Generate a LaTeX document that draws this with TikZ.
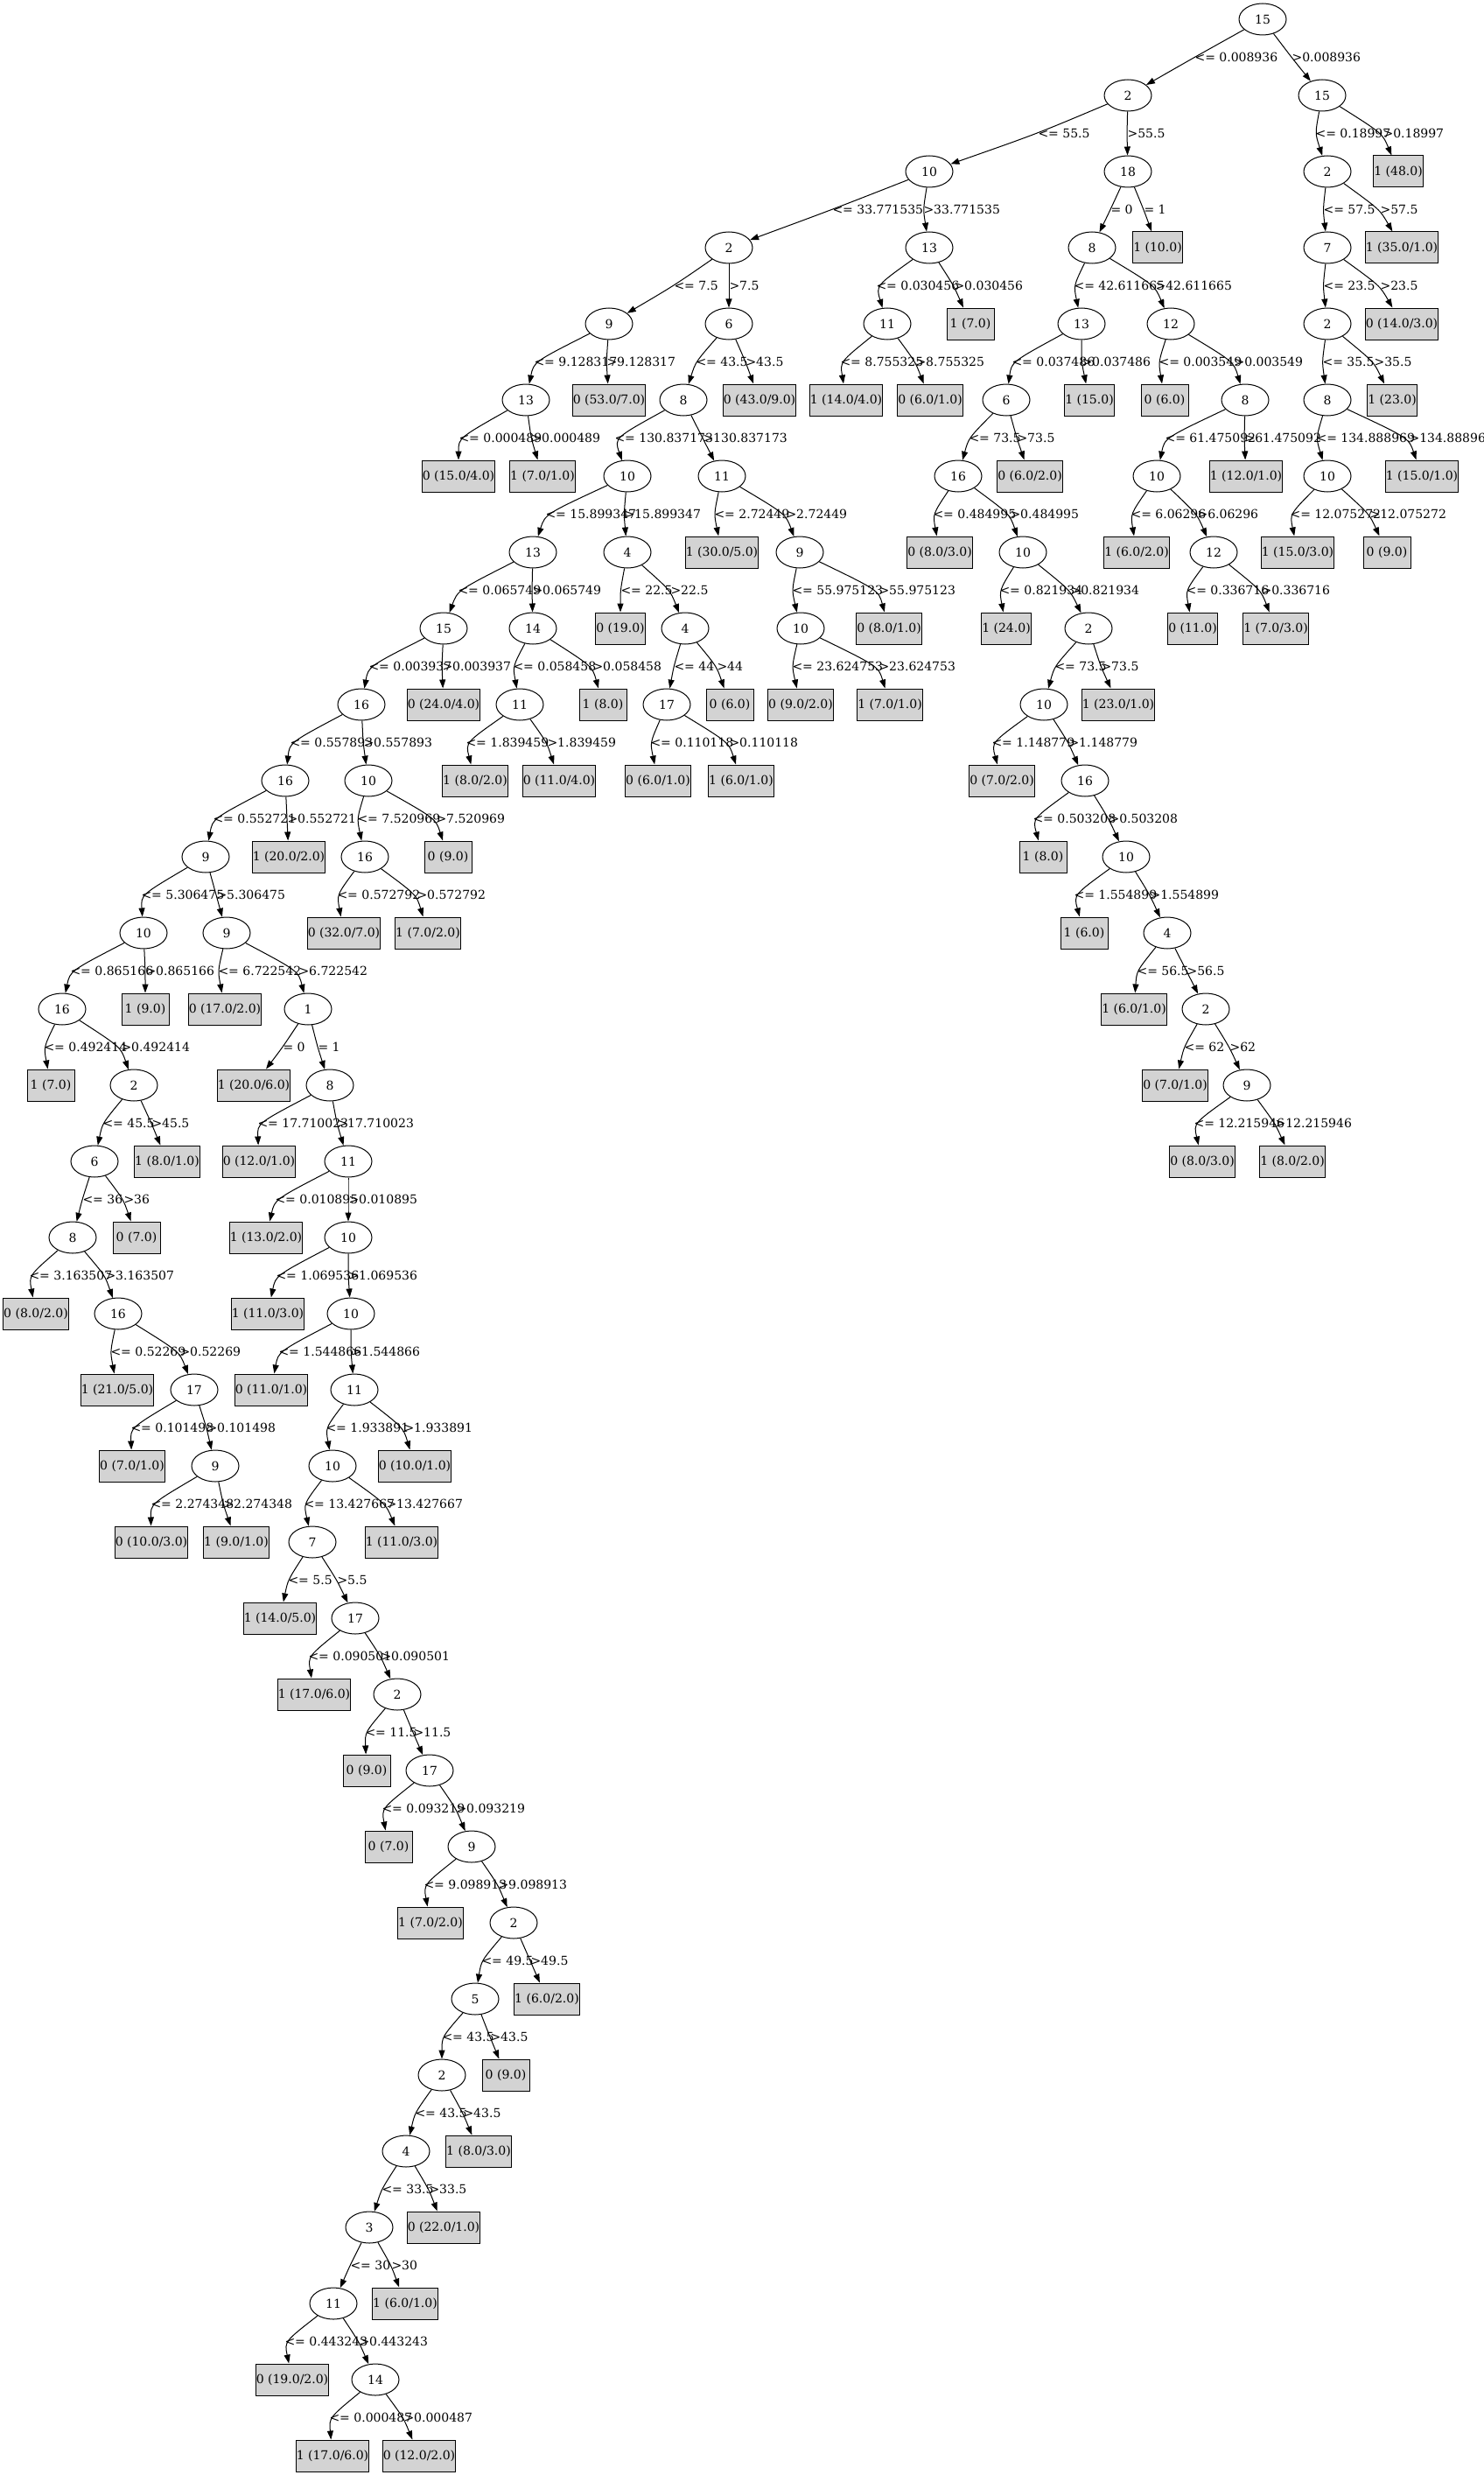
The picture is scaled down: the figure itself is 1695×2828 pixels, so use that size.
\documentclass[tikz,border=0pt]{standalone}
\usepackage{fontspec}
\setmainfont{DejaVu Serif}
\usetikzlibrary{shapes.geometric,arrows.meta}
\definecolor{leafgray}{RGB}{211,211,211}
\tikzset{
    attr/.style={draw, ellipse, minimum width=54pt, minimum height=36pt, inner sep=0pt},
    leaf/.style={draw, fill=leafgray, rectangle, minimum width=54pt, minimum height=36pt, inner xsep=0.5pt, inner ysep=0pt},
    cond/.style={anchor=west, inner sep=0pt}
}
\begin{document}
\begin{tikzpicture}[x=1pt, y=-1pt, line width=1pt, font=\fontsize{14}{16}\selectfont, >={Triangle[length=10pt, width=7pt]}]
        \useasboundingbox (0, 0) rectangle (1695, 2828);
        \node[attr] (n1) at (1443, 22) {15};
        \node[attr] (n2) at (1289, 109) {2};
        \node[attr] (n3) at (1511, 109) {15};
        \node[attr] (n4) at (1062, 196) {10};
        \node[attr] (n5) at (1289, 196) {18};
        \node[attr] (n6) at (1517, 196) {2};
        \node[leaf] (n7) at (1598, 196) {1 (48.0)};
        \node[attr] (n8) at (833, 283) {2};
        \node[attr] (n9) at (1062, 283) {13};
        \node[attr] (n10) at (1248, 283) {8};
        \node[leaf] (n11) at (1323, 283) {1 (10.0)};
        \node[attr] (n12) at (1517, 283) {7};
        \node[leaf] (n13) at (1602, 283) {1 (35.0/1.0)};
        \node[attr] (n14) at (696, 370) {9};
        \node[attr] (n15) at (833, 370) {6};
        \node[attr] (n16) at (1014, 370) {11};
        \node[leaf] (n17) at (1109, 370) {1 (7.0)};
        \node[attr] (n18) at (1236, 370) {13};
        \node[attr] (n19) at (1338, 370) {12};
        \node[attr] (n20) at (1517, 370) {2};
        \node[leaf] (n21) at (1602, 370) {0 (14.0/3.0)};
        \node[attr] (n22) at (601, 457) {13};
        \node[leaf] (n23) at (696, 457) {0 (53.0/7.0)};
        \node[attr] (n24) at (781, 457) {8};
        \node[leaf] (n25) at (868, 457) {0 (43.0/9.0)};
        \node[leaf] (n26) at (967, 457) {1 (14.0/4.0)};
        \node[leaf] (n27) at (1063, 457) {0 (6.0/1.0)};
        \node[attr] (n28) at (1150, 457) {6};
        \node[leaf] (n29) at (1245, 457) {1 (15.0)};
        \node[leaf] (n30) at (1331, 457) {0 (6.0)};
        \node[attr] (n31) at (1423, 457) {8};
        \node[attr] (n32) at (1517, 457) {8};
        \node[leaf] (n33) at (1591, 457) {1 (23.0)};
        \node[leaf] (n34) at (524, 544) {0 (15.0/4.0)};
        \node[leaf] (n35) at (620, 544) {1 (7.0/1.0)};
        \node[attr] (n36) at (717, 544) {10};
        \node[attr] (n37) at (825, 544) {11};
        \node[attr] (n38) at (1095, 544) {16};
        \node[leaf] (n39) at (1177, 544) {0 (6.0/2.0)};
        \node[attr] (n40) at (1322, 544) {10};
        \node[leaf] (n41) at (1424, 544) {1 (12.0/1.0)};
        \node[attr] (n42) at (1517, 544) {10};
        \node[leaf] (n43) at (1625, 544) {1 (15.0/1.0)};
        \node[attr] (n44) at (609, 631) {13};
        \node[attr] (n45) at (717, 631) {4};
        \node[leaf] (n46) at (825, 631) {1 (30.0/5.0)};
        \node[attr] (n47) at (914, 631) {9};
        \node[leaf] (n48) at (1074, 631) {0 (8.0/3.0)};
        \node[attr] (n49) at (1169, 631) {10};
        \node[leaf] (n50) at (1299, 631) {1 (6.0/2.0)};
        \node[attr] (n51) at (1387, 631) {12};
        \node[leaf] (n52) at (1483, 631) {1 (15.0/3.0)};
        \node[leaf] (n53) at (1585, 631) {0 (9.0)};
        \node[attr] (n54) at (507, 718) {15};
        \node[attr] (n55) at (609, 718) {14};
        \node[leaf] (n56) at (709, 718) {0 (19.0)};
        \node[attr] (n57) at (783, 718) {4};
        \node[attr] (n58) at (915, 718) {10};
        \node[leaf] (n59) at (1016, 718) {0 (8.0/1.0)};
        \node[leaf] (n60) at (1150, 718) {1 (24.0)};
        \node[attr] (n61) at (1244, 718) {2};
        \node[leaf] (n62) at (1363, 718) {0 (11.0)};
        \node[leaf] (n63) at (1458, 718) {1 (7.0/3.0)};
        \node[attr] (n64) at (413, 805) {16};
        \node[leaf] (n65) at (507, 805) {0 (24.0/4.0)};
        \node[attr] (n66) at (594, 805) {11};
        \node[leaf] (n67) at (689, 805) {1 (8.0)};
        \node[attr] (n68) at (762, 805) {17};
        \node[leaf] (n69) at (834, 805) {0 (6.0)};
        \node[leaf] (n70) at (915, 805) {0 (9.0/2.0)};
        \node[leaf] (n71) at (1017, 805) {1 (7.0/1.0)};
        \node[attr] (n72) at (1193, 805) {10};
        \node[leaf] (n73) at (1278, 805) {1 (23.0/1.0)};
        \node[attr] (n74) at (326, 892) {16};
        \node[attr] (n75) at (421, 892) {10};
        \node[leaf] (n76) at (543, 892) {1 (8.0/2.0)};
        \node[leaf] (n77) at (639, 892) {0 (11.0/4.0)};
        \node[leaf] (n78) at (752, 892) {0 (6.0/1.0)};
        \node[leaf] (n79) at (847, 892) {1 (6.0/1.0)};
        \node[leaf] (n80) at (1145, 892) {0 (7.0/2.0)};
        \node[attr] (n81) at (1240, 892) {16};
        \node[attr] (n82) at (235, 979) {9};
        \node[leaf] (n83) at (330, 979) {1 (20.0/2.0)};
        \node[attr] (n84) at (417, 979) {16};
        \node[leaf] (n85) at (512, 979) {0 (9.0)};
        \node[leaf] (n86) at (1192, 979) {1 (8.0)};
        \node[attr] (n87) at (1287, 979) {10};
        \node[attr] (n88) at (164, 1066) {10};
        \node[attr] (n89) at (259, 1066) {9};
        \node[leaf] (n90) at (393, 1066) {0 (32.0/7.0)};
        \node[leaf] (n91) at (489, 1066) {1 (7.0/2.0)};
        \node[leaf] (n92) at (1239, 1066) {1 (6.0)};
        \node[attr] (n93) at (1334, 1066) {4};
        \node[attr] (n94) at (71, 1153) {16};
        \node[leaf] (n95) at (166, 1153) {1 (9.0)};
        \node[leaf] (n96) at (257, 1153) {0 (17.0/2.0)};
        \node[attr] (n97) at (352, 1153) {1};
        \node[leaf] (n98) at (1296, 1153) {1 (6.0/1.0)};
        \node[attr] (n99) at (1378, 1153) {2};
        \node[leaf] (n100) at (58, 1240) {1 (7.0)};
        \node[attr] (n101) at (153, 1240) {2};
        \node[leaf] (n102) at (290, 1240) {1 (20.0/6.0)};
        \node[attr] (n103) at (377, 1240) {8};
        \node[leaf] (n104) at (1343, 1240) {0 (7.0/1.0)};
        \node[attr] (n105) at (1425, 1240) {9};
        \node[attr] (n106) at (108, 1327) {6};
        \node[leaf] (n107) at (191, 1327) {1 (8.0/1.0)};
        \node[leaf] (n108) at (296, 1327) {0 (12.0/1.0)};
        \node[attr] (n109) at (398, 1327) {11};
        \node[leaf] (n110) at (1374, 1327) {0 (8.0/3.0)};
        \node[leaf] (n111) at (1477, 1327) {1 (8.0/2.0)};
        \node[attr] (n112) at (83, 1414) {8};
        \node[leaf] (n113) at (156, 1414) {0 (7.0)};
        \node[leaf] (n114) at (304, 1414) {1 (13.0/2.0)};
        \node[attr] (n115) at (398, 1414) {10};
        \node[leaf] (n116) at (41, 1501) {0 (8.0/2.0)};
        \node[attr] (n117) at (135, 1501) {16};
        \node[leaf] (n118) at (306, 1501) {1 (11.0/3.0)};
        \node[attr] (n119) at (401, 1501) {10};
        \node[leaf] (n120) at (134, 1588) {1 (21.0/5.0)};
        \node[attr] (n121) at (222, 1588) {17};
        \node[leaf] (n122) at (310, 1588) {0 (11.0/1.0)};
        \node[attr] (n123) at (405, 1588) {11};
        \node[leaf] (n124) at (151, 1675) {0 (7.0/1.0)};
        \node[attr] (n125) at (246, 1675) {9};
        \node[attr] (n126) at (380, 1675) {10};
        \node[leaf] (n127) at (474, 1675) {0 (10.0/1.0)};
        \node[leaf] (n128) at (173, 1762) {0 (10.0/3.0)};
        \node[leaf] (n129) at (270, 1762) {1 (9.0/1.0)};
        \node[attr] (n130) at (357, 1762) {7};
        \node[leaf] (n131) at (459, 1762) {1 (11.0/3.0)};
        \node[leaf] (n132) at (320, 1849) {1 (14.0/5.0)};
        \node[attr] (n133) at (406, 1849) {17};
        \node[leaf] (n134) at (359, 1936) {1 (17.0/6.0)};
        \node[attr] (n135) at (454, 1936) {2};
        \node[leaf] (n136) at (419, 2023) {0 (9.0)};
        \node[attr] (n137) at (491, 2023) {17};
        \node[leaf] (n138) at (444, 2110) {0 (7.0)};
        \node[attr] (n139) at (539, 2110) {9};
        \node[leaf] (n140) at (492, 2197) {1 (7.0/2.0)};
        \node[attr] (n141) at (587, 2197) {2};
        \node[attr] (n142) at (543, 2284) {5};
        \node[leaf] (n143) at (625, 2284) {1 (6.0/2.0)};
        \node[attr] (n144) at (505, 2371) {2};
        \node[leaf] (n145) at (578, 2371) {0 (9.0)};
        \node[attr] (n146) at (464, 2458) {4};
        \node[leaf] (n147) at (547, 2458) {1 (8.0/3.0)};
        \node[attr] (n148) at (422, 2545) {3};
        \node[leaf] (n149) at (507, 2545) {0 (22.0/1.0)};
        \node[attr] (n150) at (381, 2632) {11};
        \node[leaf] (n151) at (463, 2632) {1 (6.0/1.0)};
        \node[leaf] (n152) at (334, 2719) {0 (19.0/2.0)};
        \node[attr] (n153) at (429, 2719) {14};
        \node[leaf] (n154) at (380, 2806) {1 (17.0/6.0)};
        \node[leaf] (n155) at (479, 2806) {0 (12.0/2.0)};

        \node[cond] (n1l) at (1365, 65.5) {<= 0.008936};
        \node[cond] (n1r) at (1476, 65.5) {>0.008936};
        \draw[->] (n1) .. controls (n1l.west) and (n1l.west) .. (n2);
        \draw[->] (n1) .. controls (n1r.west) and (n1r.west) .. (n3);
        \node[cond] (n2l) at (1186, 152.5) {<= 55.5};
        \node[cond] (n2r) at (1288, 152.5) {>55.5};
        \draw[->] (n2) .. controls (n2l.west) and (n2l.west) .. (n4);
        \draw[->] (n2) .. controls (n2r.west) and (n2r.west) .. (n5);
        \node[cond] (n3l) at (1503, 152.5) {<= 0.18997};
        \node[cond] (n3r) at (1580, 152.5) {>0.18997};
        \draw[->] (n3) .. controls (n3l.west) and (n3l.west) .. (n6);
        \draw[->] (n3) .. controls (n3r.west) and (n3r.west) .. (n7);
        \node[cond] (n4l) at (951, 239.5) {<= 33.771535};
        \node[cond] (n4r) at (1055, 239.5) {>33.771535};
        \draw[->] (n4) .. controls (n4l.west) and (n4l.west) .. (n8);
        \draw[->] (n4) .. controls (n4r.west) and (n4r.west) .. (n9);
        \node[cond] (n5l) at (1269, 239.5) {= 0};
        \node[cond] (n5r) at (1307, 239.5) {= 1};
        \draw[->] (n5) .. controls (n5l.west) and (n5l.west) .. (n10);
        \draw[->] (n5) .. controls (n5r.west) and (n5r.west) .. (n11);
        \node[cond] (n6l) at (1512, 239.5) {<= 57.5};
        \node[cond] (n6r) at (1577, 239.5) {>57.5};
        \draw[->] (n6) .. controls (n6l.west) and (n6l.west) .. (n12);
        \draw[->] (n6) .. controls (n6r.west) and (n6r.west) .. (n13);
        \node[cond] (n8l) at (770, 326.5) {<= 7.5};
        \node[cond] (n8r) at (833, 326.5) {>7.5};
        \draw[->] (n8) .. controls (n8l.west) and (n8l.west) .. (n14);
        \draw[->] (n8) .. controls (n8r.west) and (n8r.west) .. (n15);
        \node[cond] (n9l) at (1001, 326.5) {<= 0.030456};
        \node[cond] (n9r) at (1090, 326.5) {>0.030456};
        \draw[->] (n9) .. controls (n9l.west) and (n9l.west) .. (n16);
        \draw[->] (n9) .. controls (n9r.west) and (n9r.west) .. (n17);
        \node[cond] (n10l) at (1227, 326.5) {<= 42.611665};
        \node[cond] (n10r) at (1320, 326.5) {>42.611665};
        \draw[->] (n10) .. controls (n10l.west) and (n10l.west) .. (n18);
        \draw[->] (n10) .. controls (n10r.west) and (n10r.west) .. (n19);
        \node[cond] (n12l) at (1512, 326.5) {<= 23.5};
        \node[cond] (n12r) at (1577, 326.5) {>23.5};
        \draw[->] (n12) .. controls (n12l.west) and (n12l.west) .. (n20);
        \draw[->] (n12) .. controls (n12r.west) and (n12r.west) .. (n21);
        \node[cond] (n14l) at (610, 413.5) {<= 9.128317};
        \node[cond] (n14r) at (693, 413.5) {>9.128317};
        \draw[->] (n14) .. controls (n14l.west) and (n14l.west) .. (n22);
        \draw[->] (n14) .. controls (n14r.west) and (n14r.west) .. (n23);
        \node[cond] (n15l) at (795, 413.5) {<= 43.5};
        \node[cond] (n15r) at (852, 413.5) {>43.5};
        \draw[->] (n15) .. controls (n15l.west) and (n15l.west) .. (n24);
        \draw[->] (n15) .. controls (n15r.west) and (n15r.west) .. (n25);
        \node[cond] (n16l) at (960, 413.5) {<= 8.755325};
        \node[cond] (n16r) at (1046, 413.5) {>8.755325};
        \draw[->] (n16) .. controls (n16l.west) and (n16l.west) .. (n26);
        \draw[->] (n16) .. controls (n16r.west) and (n16r.west) .. (n27);
        \node[cond] (n18l) at (1156, 413.5) {<= 0.037486};
        \node[cond] (n18r) at (1236, 413.5) {>0.037486};
        \draw[->] (n18) .. controls (n18l.west) and (n18l.west) .. (n28);
        \draw[->] (n18) .. controls (n18r.west) and (n18r.west) .. (n29);
        \node[cond] (n19l) at (1324, 413.5) {<= 0.003549};
        \node[cond] (n19r) at (1410, 413.5) {>0.003549};
        \draw[->] (n19) .. controls (n19l.west) and (n19l.west) .. (n30);
        \draw[->] (n19) .. controls (n19r.west) and (n19r.west) .. (n31);
        \node[cond] (n20l) at (1511, 413.5) {<= 35.5};
        \node[cond] (n20r) at (1570, 413.5) {>35.5};
        \draw[->] (n20) .. controls (n20l.west) and (n20l.west) .. (n32);
        \draw[->] (n20) .. controls (n20r.west) and (n20r.west) .. (n33);
        \node[cond] (n22l) at (524, 500.5) {<= 0.000489};
        \node[cond] (n22r) at (607, 500.5) {>0.000489};
        \draw[->] (n22) .. controls (n22l.west) and (n22l.west) .. (n34);
        \draw[->] (n22) .. controls (n22r.west) and (n22r.west) .. (n35);
        \node[cond] (n24l) at (702, 500.5) {<= 130.837173};
        \node[cond] (n24r) at (803, 500.5) {>130.837173};
        \draw[->] (n24) .. controls (n24l.west) and (n24l.west) .. (n36);
        \draw[->] (n24) .. controls (n24r.west) and (n24r.west) .. (n37);
        \node[cond] (n28l) at (1107, 500.5) {<= 73.5};
        \node[cond] (n28r) at (1162, 500.5) {>73.5};
        \draw[->] (n28) .. controls (n28l.west) and (n28l.west) .. (n38);
        \draw[->] (n28) .. controls (n28r.west) and (n28r.west) .. (n39);
        \node[cond] (n31l) at (1331, 500.5) {<= 61.475092};
        \node[cond] (n31r) at (1422, 500.5) {>61.475092};
        \draw[->] (n31) .. controls (n31l.west) and (n31l.west) .. (n40);
        \draw[->] (n31) .. controls (n31r.west) and (n31r.west) .. (n41);
        \node[cond] (n32l) at (1504, 500.5) {<= 134.888969};
        \node[cond] (n32r) at (1610, 500.5) {>134.888969};
        \draw[->] (n32) .. controls (n32l.west) and (n32l.west) .. (n42);
        \draw[->] (n32) .. controls (n32r.west) and (n32r.west) .. (n43);
        \node[cond] (n36l) at (623, 587.5) {<= 15.899347};
        \node[cond] (n36r) at (713, 587.5) {>15.899347};
        \draw[->] (n36) .. controls (n36l.west) and (n36l.west) .. (n44);
        \draw[->] (n36) .. controls (n36r.west) and (n36r.west) .. (n45);
        \node[cond] (n37l) at (816, 587.5) {<= 2.72449};
        \node[cond] (n37r) at (898, 587.5) {>2.72449};
        \draw[->] (n37) .. controls (n37l.west) and (n37l.west) .. (n46);
        \draw[->] (n37) .. controls (n37r.west) and (n37r.west) .. (n47);
        \node[cond] (n38l) at (1066, 587.5) {<= 0.484995};
        \node[cond] (n38r) at (1154, 587.5) {>0.484995};
        \draw[->] (n38) .. controls (n38l.west) and (n38l.west) .. (n48);
        \draw[->] (n38) .. controls (n38r.west) and (n38r.west) .. (n49);
        \node[cond] (n40l) at (1292, 587.5) {<= 6.06296};
        \node[cond] (n40r) at (1368, 587.5) {>6.06296};
        \draw[->] (n40) .. controls (n40l.west) and (n40l.west) .. (n50);
        \draw[->] (n40) .. controls (n40r.west) and (n40r.west) .. (n51);
        \node[cond] (n42l) at (1474, 587.5) {<= 12.075272};
        \node[cond] (n42r) at (1565, 587.5) {>12.075272};
        \draw[->] (n42) .. controls (n42l.west) and (n42l.west) .. (n52);
        \draw[->] (n42) .. controls (n42r.west) and (n42r.west) .. (n53);
        \node[cond] (n44l) at (523, 674.5) {<= 0.065749};
        \node[cond] (n44r) at (608, 674.5) {>0.065749};
        \draw[->] (n44) .. controls (n44l.west) and (n44l.west) .. (n54);
        \draw[->] (n44) .. controls (n44r.west) and (n44r.west) .. (n55);
        \node[cond] (n45l) at (709, 674.5) {<= 22.5};
        \node[cond] (n45r) at (766, 674.5) {>22.5};
        \draw[->] (n45) .. controls (n45l.west) and (n45l.west) .. (n56);
        \draw[->] (n45) .. controls (n45r.west) and (n45r.west) .. (n57);
        \node[cond] (n47l) at (905, 674.5) {<= 55.975123};
        \node[cond] (n47r) at (1004, 674.5) {>55.975123};
        \draw[->] (n47) .. controls (n47l.west) and (n47l.west) .. (n58);
        \draw[->] (n47) .. controls (n47r.west) and (n47r.west) .. (n59);
        \node[cond] (n49l) at (1142, 674.5) {<= 0.821934};
        \node[cond] (n49r) at (1223, 674.5) {>0.821934};
        \draw[->] (n49) .. controls (n49l.west) and (n49l.west) .. (n60);
        \draw[->] (n49) .. controls (n49r.west) and (n49r.west) .. (n61);
        \node[cond] (n51l) at (1355, 674.5) {<= 0.336716};
        \node[cond] (n51r) at (1441, 674.5) {>0.336716};
        \draw[->] (n51) .. controls (n51l.west) and (n51l.west) .. (n62);
        \draw[->] (n51) .. controls (n51r.west) and (n51r.west) .. (n63);
        \node[cond] (n54l) at (421, 761.5) {<= 0.003937};
        \node[cond] (n54r) at (505, 761.5) {>0.003937};
        \draw[->] (n54) .. controls (n54l.west) and (n54l.west) .. (n64);
        \draw[->] (n54) .. controls (n54r.west) and (n54r.west) .. (n65);
        \node[cond] (n55l) at (586, 761.5) {<= 0.058458};
        \node[cond] (n55r) at (677, 761.5) {>0.058458};
        \draw[->] (n55) .. controls (n55l.west) and (n55l.west) .. (n66);
        \draw[->] (n55) .. controls (n55r.west) and (n55r.west) .. (n67);
        \node[cond] (n57l) at (770, 761.5) {<= 44};
        \node[cond] (n57r) at (819, 761.5) {>44};
        \draw[->] (n57) .. controls (n57l.west) and (n57l.west) .. (n68);
        \draw[->] (n57) .. controls (n57r.west) and (n57r.west) .. (n69);
        \node[cond] (n58l) at (905, 761.5) {<= 23.624753};
        \node[cond] (n58r) at (1004, 761.5) {>23.624753};
        \draw[->] (n58) .. controls (n58l.west) and (n58l.west) .. (n70);
        \draw[->] (n58) .. controls (n58r.west) and (n58r.west) .. (n71);
        \node[cond] (n61l) at (1205, 761.5) {<= 73.5};
        \node[cond] (n61r) at (1258, 761.5) {>73.5};
        \draw[->] (n61) .. controls (n61l.west) and (n61l.west) .. (n72);
        \draw[->] (n61) .. controls (n61r.west) and (n61r.west) .. (n73);
        \node[cond] (n64l) at (331, 848.5) {<= 0.557893};
        \node[cond] (n64r) at (415, 848.5) {>0.557893};
        \draw[->] (n64) .. controls (n64l.west) and (n64l.west) .. (n74);
        \draw[->] (n64) .. controls (n64r.west) and (n64r.west) .. (n75);
        \node[cond] (n66l) at (532, 848.5) {<= 1.839459};
        \node[cond] (n66r) at (625, 848.5) {>1.839459};
        \draw[->] (n66) .. controls (n66l.west) and (n66l.west) .. (n76);
        \draw[->] (n66) .. controls (n66r.west) and (n66r.west) .. (n77);
        \node[cond] (n68l) at (743, 848.5) {<= 0.110118};
        \node[cond] (n68r) at (833, 848.5) {>0.110118};
        \draw[->] (n68) .. controls (n68l.west) and (n68l.west) .. (n78);
        \draw[->] (n68) .. controls (n68r.west) and (n68r.west) .. (n79);
        \node[cond] (n72l) at (1133, 848.5) {<= 1.148779};
        \node[cond] (n72r) at (1221, 848.5) {>1.148779};
        \draw[->] (n72) .. controls (n72l.west) and (n72l.west) .. (n80);
        \draw[->] (n72) .. controls (n72r.west) and (n72r.west) .. (n81);
        \node[cond] (n74l) at (243, 935.5) {<= 0.552721};
        \node[cond] (n74r) at (328, 935.5) {>0.552721};
        \draw[->] (n74) .. controls (n74l.west) and (n74l.west) .. (n82);
        \draw[->] (n74) .. controls (n74r.west) and (n74r.west) .. (n83);
        \node[cond] (n75l) at (408, 935.5) {<= 7.520969};
        \node[cond] (n75r) at (498, 935.5) {>7.520969};
        \draw[->] (n75) .. controls (n75l.west) and (n75l.west) .. (n84);
        \draw[->] (n75) .. controls (n75r.west) and (n75r.west) .. (n85);
        \node[cond] (n81l) at (1180, 935.5) {<= 0.503208};
        \node[cond] (n81r) at (1267, 935.5) {>0.503208};
        \draw[->] (n81) .. controls (n81l.west) and (n81l.west) .. (n86);
        \draw[->] (n81) .. controls (n81r.west) and (n81r.west) .. (n87);
        \node[cond] (n82l) at (161, 1022.5) {<= 5.306475};
        \node[cond] (n82r) at (247, 1022.5) {>5.306475};
        \draw[->] (n82) .. controls (n82l.west) and (n82l.west) .. (n88);
        \draw[->] (n82) .. controls (n82r.west) and (n82r.west) .. (n89);
        \node[cond] (n84l) at (385, 1022.5) {<= 0.572792};
        \node[cond] (n84r) at (476, 1022.5) {>0.572792};
        \draw[->] (n84) .. controls (n84l.west) and (n84l.west) .. (n90);
        \draw[->] (n84) .. controls (n84r.west) and (n84r.west) .. (n91);
        \node[cond] (n87l) at (1227, 1022.5) {<= 1.554899};
        \node[cond] (n87r) at (1314, 1022.5) {>1.554899};
        \draw[->] (n87) .. controls (n87l.west) and (n87l.west) .. (n92);
        \draw[->] (n87) .. controls (n87r.west) and (n87r.west) .. (n93);
        \node[cond] (n88l) at (80, 1109.5) {<= 0.865166};
        \node[cond] (n88r) at (166, 1109.5) {>0.865166};
        \draw[->] (n88) .. controls (n88l.west) and (n88l.west) .. (n94);
        \draw[->] (n88) .. controls (n88r.west) and (n88r.west) .. (n95);
        \node[cond] (n89l) at (249, 1109.5) {<= 6.722542};
        \node[cond] (n89r) at (341, 1109.5) {>6.722542};
        \draw[->] (n89) .. controls (n89l.west) and (n89l.west) .. (n96);
        \draw[->] (n89) .. controls (n89r.west) and (n89r.west) .. (n97);
        \node[cond] (n93l) at (1299, 1109.5) {<= 56.5};
        \node[cond] (n93r) at (1356, 1109.5) {>56.5};
        \draw[->] (n93) .. controls (n93l.west) and (n93l.west) .. (n98);
        \draw[->] (n93) .. controls (n93r.west) and (n93r.west) .. (n99);
        \node[cond] (n94l) at (50, 1196.5) {<= 0.492414};
        \node[cond] (n94r) at (138, 1196.5) {>0.492414};
        \draw[->] (n94) .. controls (n94l.west) and (n94l.west) .. (n100);
        \draw[->] (n94) .. controls (n94r.west) and (n94r.west) .. (n101);
        \node[cond] (n97l) at (323, 1196.5) {= 0};
        \node[cond] (n97r) at (363, 1196.5) {= 1};
        \draw[->] (n97) .. controls (n97l.west) and (n97l.west) .. (n102);
        \draw[->] (n97) .. controls (n97r.west) and (n97r.west) .. (n103);
        \node[cond] (n99l) at (1353, 1196.5) {<= 62};
        \node[cond] (n99r) at (1405, 1196.5) {>62};
        \draw[->] (n99) .. controls (n99l.west) and (n99l.west) .. (n104);
        \draw[->] (n99) .. controls (n99r.west) and (n99r.west) .. (n105);
        \node[cond] (n101l) at (117, 1283.5) {<= 45.5};
        \node[cond] (n101r) at (173, 1283.5) {>45.5};
        \draw[->] (n101) .. controls (n101l.west) and (n101l.west) .. (n106);
        \draw[->] (n101) .. controls (n101r.west) and (n101r.west) .. (n107);
        \node[cond] (n103l) at (294, 1283.5) {<= 17.710023};
        \node[cond] (n103r) at (385, 1283.5) {>17.710023};
        \draw[->] (n103) .. controls (n103l.west) and (n103l.west) .. (n108);
        \draw[->] (n103) .. controls (n103r.west) and (n103r.west) .. (n109);
        \node[cond] (n105l) at (1364, 1283.5) {<= 12.215946};
        \node[cond] (n105r) at (1457, 1283.5) {>12.215946};
        \draw[->] (n105) .. controls (n105l.west) and (n105l.west) .. (n110);
        \draw[->] (n105) .. controls (n105r.west) and (n105r.west) .. (n111);
        \node[cond] (n106l) at (94, 1370.5) {<= 36};
        \node[cond] (n106r) at (141, 1370.5) {>36};
        \draw[->] (n106) .. controls (n106l.west) and (n106l.west) .. (n112);
        \draw[->] (n106) .. controls (n106r.west) and (n106r.west) .. (n113);
        \node[cond] (n109l) at (314, 1370.5) {<= 0.010895};
        \node[cond] (n109r) at (398, 1370.5) {>0.010895};
        \draw[->] (n109) .. controls (n109l.west) and (n109l.west) .. (n114);
        \draw[->] (n109) .. controls (n109r.west) and (n109r.west) .. (n115);
        \node[cond] (n112l) at (33, 1457.5) {<= 3.163507};
        \node[cond] (n112r) at (120, 1457.5) {>3.163507};
        \draw[->] (n112) .. controls (n112l.west) and (n112l.west) .. (n116);
        \draw[->] (n112) .. controls (n112r.west) and (n112r.west) .. (n117);
        \node[cond] (n115l) at (315, 1457.5) {<= 1.069536};
        \node[cond] (n115r) at (398, 1457.5) {>1.069536};
        \draw[->] (n115) .. controls (n115l.west) and (n115l.west) .. (n118);
        \draw[->] (n115) .. controls (n115r.west) and (n115r.west) .. (n119);
        \node[cond] (n117l) at (126, 1544.5) {<= 0.52269};
        \node[cond] (n117r) at (205, 1544.5) {>0.52269};
        \draw[->] (n117) .. controls (n117l.west) and (n117l.west) .. (n120);
        \draw[->] (n117) .. controls (n117r.west) and (n117r.west) .. (n121);
        \node[cond] (n119l) at (318, 1544.5) {<= 1.544866};
        \node[cond] (n119r) at (401, 1544.5) {>1.544866};
        \draw[->] (n119) .. controls (n119l.west) and (n119l.west) .. (n122);
        \draw[->] (n119) .. controls (n119r.west) and (n119r.west) .. (n123);
        \node[cond] (n121l) at (149, 1631.5) {<= 0.101498};
        \node[cond] (n121r) at (236, 1631.5) {>0.101498};
        \draw[->] (n121) .. controls (n121l.west) and (n121l.west) .. (n124);
        \draw[->] (n121) .. controls (n121r.west) and (n121r.west) .. (n125);
        \node[cond] (n123l) at (372, 1631.5) {<= 1.933891};
        \node[cond] (n123r) at (461, 1631.5) {>1.933891};
        \draw[->] (n123) .. controls (n123l.west) and (n123l.west) .. (n126);
        \draw[->] (n123) .. controls (n123r.west) and (n123r.west) .. (n127);
        \node[cond] (n125l) at (172, 1718.5) {<= 2.274348};
        \node[cond] (n125r) at (255, 1718.5) {>2.274348};
        \draw[->] (n125) .. controls (n125l.west) and (n125l.west) .. (n128);
        \draw[->] (n125) .. controls (n125r.west) and (n125r.west) .. (n129);
        \node[cond] (n126l) at (347, 1718.5) {<= 13.427667};
        \node[cond] (n126r) at (441, 1718.5) {>13.427667};
        \draw[->] (n126) .. controls (n126l.west) and (n126l.west) .. (n130);
        \draw[->] (n126) .. controls (n126r.west) and (n126r.west) .. (n131);
        \node[cond] (n130l) at (329, 1805.5) {<= 5.5};
        \node[cond] (n130r) at (385, 1805.5) {>5.5};
        \draw[->] (n130) .. controls (n130l.west) and (n130l.west) .. (n132);
        \draw[->] (n130) .. controls (n130r.west) and (n130r.west) .. (n133);
        \node[cond] (n133l) at (352, 1892.5) {<= 0.090501};
        \node[cond] (n133r) at (435, 1892.5) {>0.090501};
        \draw[->] (n133) .. controls (n133l.west) and (n133l.west) .. (n134);
        \draw[->] (n133) .. controls (n133r.west) and (n133r.west) .. (n135);
        \node[cond] (n135l) at (417, 1979.5) {<= 11.5};
        \node[cond] (n135r) at (472, 1979.5) {>11.5};
        \draw[->] (n135) .. controls (n135l.west) and (n135l.west) .. (n136);
        \draw[->] (n135) .. controls (n135r.west) and (n135r.west) .. (n137);
        \node[cond] (n137l) at (436, 2066.5) {<= 0.093219};
        \node[cond] (n137r) at (521, 2066.5) {>0.093219};
        \draw[->] (n137) .. controls (n137l.west) and (n137l.west) .. (n138);
        \draw[->] (n137) .. controls (n137r.west) and (n137r.west) .. (n139);
        \node[cond] (n139l) at (484, 2153.5) {<= 9.098913};
        \node[cond] (n139r) at (569, 2153.5) {>9.098913};
        \draw[->] (n139) .. controls (n139l.west) and (n139l.west) .. (n140);
        \draw[->] (n139) .. controls (n139r.west) and (n139r.west) .. (n141);
        \node[cond] (n141l) at (550, 2240.5) {<= 49.5};
        \node[cond] (n141r) at (606, 2240.5) {>49.5};
        \draw[->] (n141) .. controls (n141l.west) and (n141l.west) .. (n142);
        \draw[->] (n141) .. controls (n141r.west) and (n141r.west) .. (n143);
        \node[cond] (n142l) at (505, 2327.5) {<= 43.5};
        \node[cond] (n142r) at (560, 2327.5) {>43.5};
        \draw[->] (n142) .. controls (n142l.west) and (n142l.west) .. (n144);
        \draw[->] (n142) .. controls (n142r.west) and (n142r.west) .. (n145);
        \node[cond] (n144l) at (474, 2414.5) {<= 43.5};
        \node[cond] (n144r) at (529, 2414.5) {>43.5};
        \draw[->] (n144) .. controls (n144l.west) and (n144l.west) .. (n146);
        \draw[->] (n144) .. controls (n144r.west) and (n144r.west) .. (n147);
        \node[cond] (n146l) at (436, 2501.5) {<= 33.5};
        \node[cond] (n146r) at (490, 2501.5) {>33.5};
        \draw[->] (n146) .. controls (n146l.west) and (n146l.west) .. (n148);
        \draw[->] (n146) .. controls (n146r.west) and (n146r.west) .. (n149);
        \node[cond] (n148l) at (400, 2588.5) {<= 30};
        \node[cond] (n148r) at (447, 2588.5) {>30};
        \draw[->] (n148) .. controls (n148l.west) and (n148l.west) .. (n150);
        \draw[->] (n148) .. controls (n148r.west) and (n148r.west) .. (n151);
        \node[cond] (n150l) at (325, 2675.5) {<= 0.443243};
        \node[cond] (n150r) at (410, 2675.5) {>0.443243};
        \draw[->] (n150) .. controls (n150l.west) and (n150l.west) .. (n152);
        \draw[->] (n150) .. controls (n150r.west) and (n150r.west) .. (n153);
        \node[cond] (n153l) at (376, 2762.5) {<= 0.000487};
        \node[cond] (n153r) at (461, 2762.5) {>0.000487};
        \draw[->] (n153) .. controls (n153l.west) and (n153l.west) .. (n154);
        \draw[->] (n153) .. controls (n153r.west) and (n153r.west) .. (n155);
\end{tikzpicture}
\end{document}
